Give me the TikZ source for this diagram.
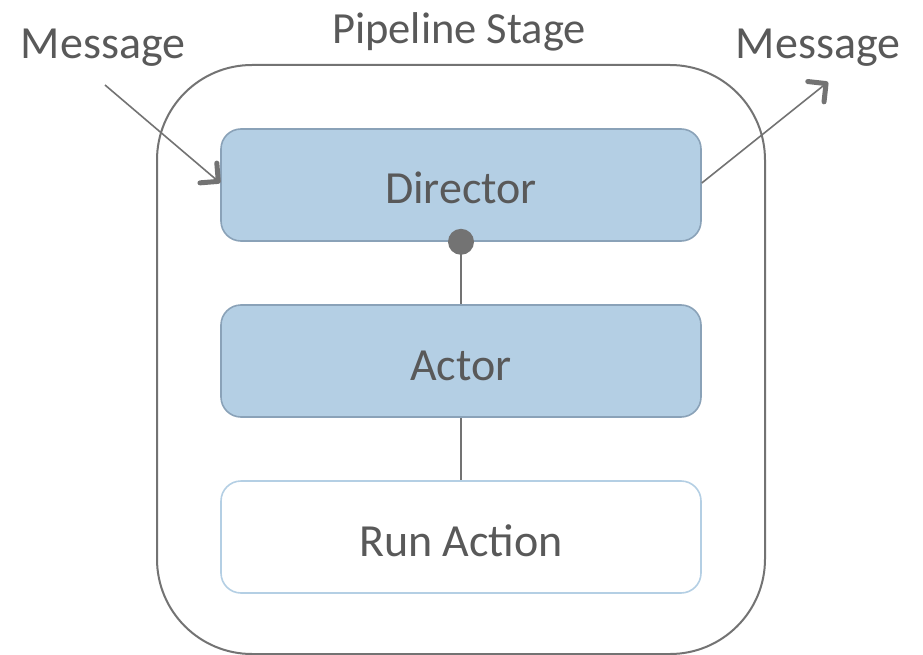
\documentclass[tikz,border=0pt]{standalone}
\usepackage{fontspec}
\setmainfont{Carlito}
\usetikzlibrary{arrows.meta}
\definecolor{txt}{HTML}{595959}
\definecolor{ln}{HTML}{737373}
\definecolor{bfill}{HTML}{B4CFE4}
\definecolor{bdraw}{HTML}{8AA2B8}
\definecolor{lightb}{HTML}{B4CFE4}
\tikzset{
  box/.style={rounded corners=20pt, minimum width=480pt, minimum height=112pt, line width=1.6pt, text=txt, font=\fontsize{46}{50}\selectfont, inner sep=0pt, text height=38pt, text depth=0pt},
  filledbox/.style={box, fill=bfill, draw=bdraw},
  plainbox/.style={box, fill=white, draw=lightb},
  lbl/.style={text=txt, font=\fontsize{46}{50}\selectfont, inner sep=0pt},
  conn/.style={draw=ln, line width=1.6pt},
  arr/.style={conn, -{Straight Barb[length=13pt, width=26pt, line width=5pt 0, round]}}
}
\begin{document}
\begin{tikzpicture}[x=1pt, y=-1pt]
\useasboundingbox (0,0) rectangle (923,655);
\fill[white] (0,0) rectangle (923,655);
\draw[ln, line width=2pt, rounded corners=95pt] (157,65) rectangle (765,654);
\node[lbl, font=\fontsize{44.5}{50}\selectfont] (title) at (459,32) {Pipeline Stage};
\node[lbl] (min) at (103,48) {Message};
\node[lbl] (mout) at (818,48) {Message};
\node[filledbox] (dir) at (461,185) {Director};
\node[filledbox] (act) at (461,361) {Actor};
\node[plainbox] (run) at (461,537) {Run Action};
\coordinate (ins) at (105,85);
\coordinate (oute) at (828,82);
\draw[arr] (ins) -- (dir.west |- 0,183);
\draw[arr] (dir.east |- 0,183) -- (oute);
\fill[ln] (dir.south) circle (13pt);
\draw[conn] (dir.south) -- (act.north);
\draw[conn] (act.south) -- (run.north);
\end{tikzpicture}
\end{document}
